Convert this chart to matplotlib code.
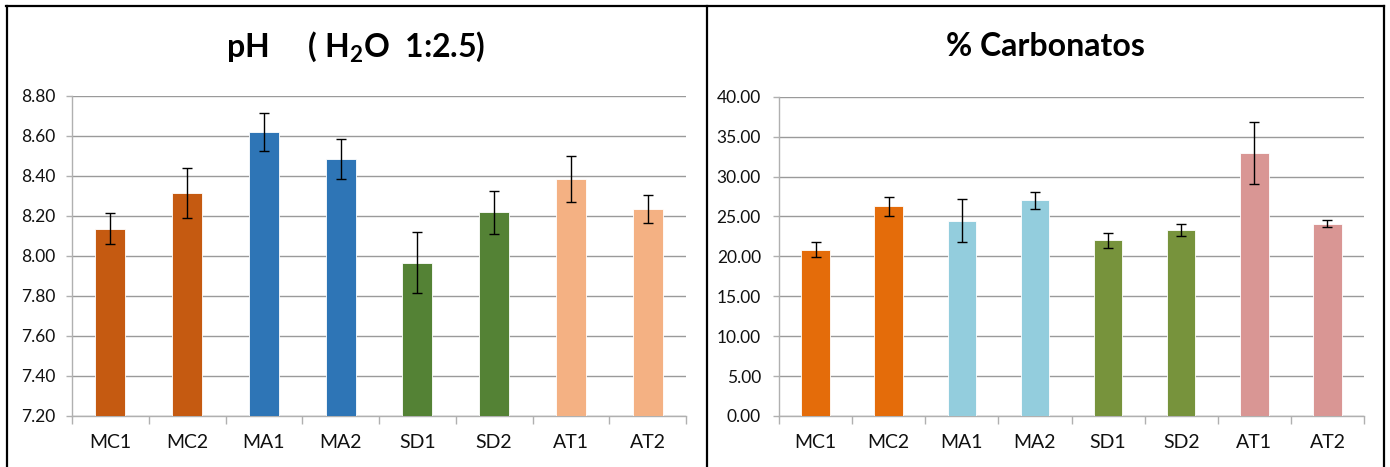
import matplotlib
matplotlib.use("Agg")
import matplotlib.pyplot as plt
from matplotlib.lines import Line2D
from matplotlib.ticker import FormatStrFormatter, MultipleLocator
import numpy as np

# ---------------- data ----------------
categories = ["MC1", "MC2", "MA1", "MA2", "SD1", "SD2", "AT1", "AT2"]

ph_values = [8.135, 8.315, 8.620, 8.485, 7.965, 8.217, 8.384, 8.234]
ph_errors = [0.077, 0.124, 0.096, 0.099, 0.152, 0.107, 0.113, 0.070]

carb_values = [20.84, 26.25, 24.46, 27.00, 22.00, 23.30, 32.96, 24.09]
carb_errors = [0.90, 1.22, 2.70, 1.02, 0.90, 0.77, 3.85, 0.46]

ph_title = r"pH     ( H$_{\mathrm{2}}$O  1:2.5)"
carb_title = "% Carbonatos"

ph_ylim = (7.20, 8.80)
ph_step = 0.20
carb_ylim = (0.0, 40.0)
carb_step = 5.0

ph_colors = ["#C55A11", "#C55A11", "#2E75B6", "#2E75B6",
             "#548235", "#548235", "#F4B183", "#F4B183"]
carb_colors = ["#E46C0A", "#E46C0A", "#93CDDD", "#93CDDD",
               "#77933C", "#77933C", "#D99694", "#D99694"]

# ---------------- style ----------------
FONT = ["Lato", "DejaVu Sans"]
plt.rcParams["font.family"] = FONT
plt.rcParams["mathtext.fontset"] = "custom"
plt.rcParams["mathtext.rm"] = "Lato:bold"
plt.rcParams["mathtext.bf"] = "Lato:bold"
plt.rcParams["mathtext.it"] = "Lato:bold"

W, H = 1390, 467
DPI = 100
fig = plt.figure(figsize=(W / DPI, H / DPI), dpi=DPI)
fig.patch.set_facecolor("white")


def fx(px):
    return px / W


def fy(py):
    return 1 - py / H


GRID = "#9A9A9A"
AX = "#B0B0B0"


def make_panel(rect, values, errors, colors, ylim, step, title, title_x, ytick_pad):
    ax = fig.add_axes(rect)
    x = np.arange(len(categories))
    ax.bar(x, np.array(values) - ylim[0], bottom=ylim[0], width=0.39,
           color=colors, edgecolor="white", linewidth=0.6, zorder=3)
    ax.errorbar(x, values, yerr=errors, fmt="none", ecolor="black",
                elinewidth=1.0, capsize=3.8, capthick=1.0, zorder=4)
    ax.set_xlim(-0.5, len(categories) - 0.5)
    ax.set_ylim(*ylim)
    ax.yaxis.set_major_locator(MultipleLocator(step))
    ax.yaxis.set_major_formatter(FormatStrFormatter("%.2f"))
    ax.grid(axis="y", color=GRID, linewidth=1.0, zorder=0)
    ax.set_axisbelow(True)
    for s in ["top", "right"]:
        ax.spines[s].set_visible(False)
    ax.spines["left"].set_color(AX)
    ax.spines["bottom"].set_color(AX)
    ax.spines["left"].set_linewidth(1.0)
    ax.spines["bottom"].set_linewidth(1.0)
    ax.set_xticks(x)
    ax.set_xticklabels(categories)
    ax.set_xticks(np.arange(-0.5, len(categories)), minor=True)
    ax.tick_params(axis="x", which="major", length=0, pad=13,
                   labelsize=14, labelcolor="#111111")
    ax.tick_params(axis="x", which="minor", length=6, width=1.0,
                   color=AX, direction="out")
    ax.tick_params(axis="y", which="major", length=4, width=1.0,
                   color=AX, pad=ytick_pad, labelsize=12.5,
                   labelcolor="#111111")
    fig.text(title_x, fy(47), title, ha="center", va="center",
             fontsize=23, fontweight="bold", color="black", family=FONT)
    return ax


ax1 = make_panel([fx(72), fy(416), fx(686 - 72), fy(95.7) - fy(416)],
                 ph_values, ph_errors, ph_colors, ph_ylim, ph_step,
                 ph_title, fx(356), 8)
ax2 = make_panel([fx(779), fy(416), fx(1364 - 779), fy(96.7) - fy(416)],
                 carb_values, carb_errors, carb_colors, carb_ylim, carb_step,
                 carb_title, fx(1045), 9)

# panel frames
lw = 1.6
fig.add_artist(Line2D([fx(6), fx(1384)], [fy(5.5), fy(5.5)],
                      transform=fig.transFigure, color="black", lw=lw))
for px in (6.5, 706.5, 1384):
    fig.add_artist(Line2D([fx(px), fx(px)], [fy(5.5), -0.01],
                          transform=fig.transFigure, color="black", lw=lw))

fig.savefig("out.png", dpi=DPI, facecolor="white")
